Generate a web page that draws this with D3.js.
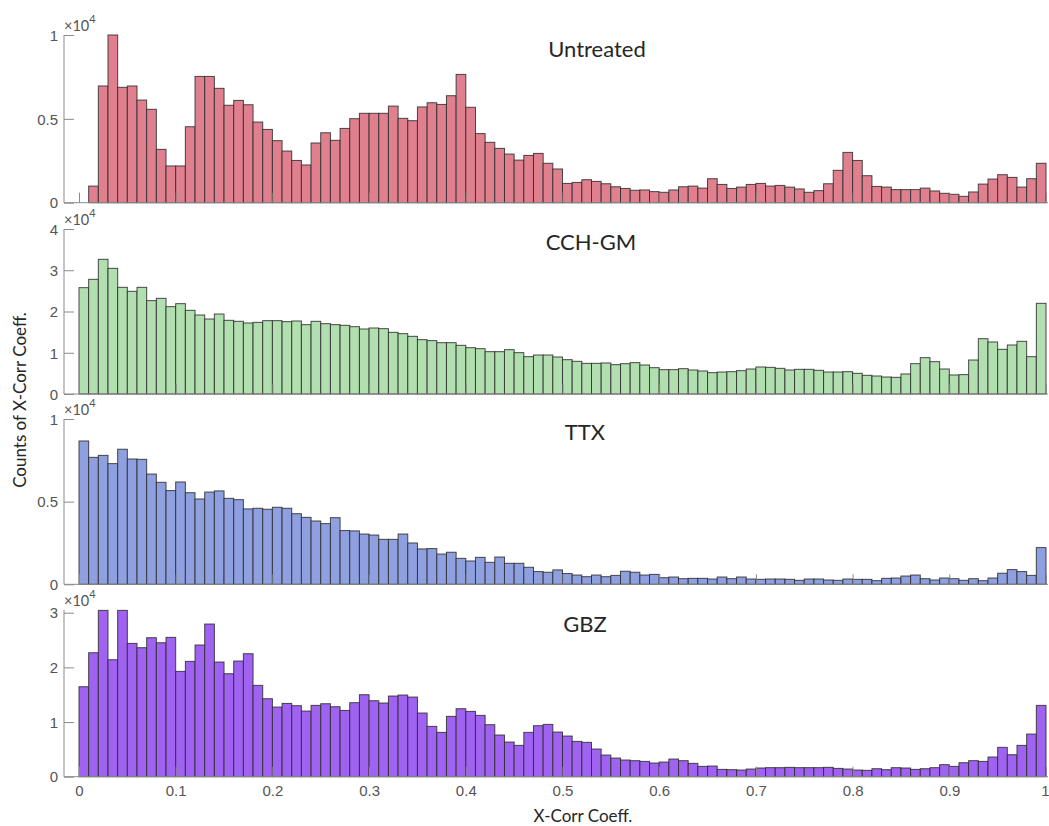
<!DOCTYPE html>
<html>
<head>
<meta charset="utf-8">
<script src="https://cdn.jsdelivr.net/npm/d3@7"></script>
<style>
  html, body { margin: 0; padding: 0; background: #ffffff; }
  svg { display: block; font-family: Lato, "Open Sans", sans-serif; }
</style>
</head>
<body>
<svg id="chart" width="1049" height="826"></svg>
<script>
// Histogram of cross-correlation coefficients, 100 bins of width 0.01 on [0, 1].
// Counts are given in units of 10^4.
const binWidth = 0.01;

const untreated = [
  0.000, 0.099, 0.696, 1.000, 0.688, 0.696, 0.612, 0.557, 0.318, 0.219,
  0.219, 0.453, 0.753, 0.753, 0.682, 0.581, 0.610, 0.584, 0.481, 0.437,
  0.370, 0.308, 0.252, 0.225, 0.356, 0.417, 0.372, 0.443, 0.501, 0.533,
  0.533, 0.533, 0.576, 0.503, 0.489, 0.571, 0.596, 0.586, 0.638, 0.765,
  0.569, 0.412, 0.360, 0.324, 0.290, 0.254, 0.282, 0.294, 0.235, 0.201,
  0.115, 0.121, 0.137, 0.127, 0.113, 0.095, 0.085, 0.074, 0.076, 0.066,
  0.062, 0.076, 0.095, 0.099, 0.087, 0.143, 0.109, 0.085, 0.093, 0.109,
  0.115, 0.099, 0.103, 0.093, 0.082, 0.062, 0.072, 0.113, 0.193, 0.300,
  0.252, 0.161, 0.097, 0.093, 0.078, 0.078, 0.078, 0.087, 0.070, 0.056,
  0.050, 0.038, 0.064, 0.111, 0.141, 0.167, 0.151, 0.093, 0.143, 0.235
];

const cchGm = [
  2.578, 2.780, 3.265, 3.046, 2.586, 2.489, 2.586, 2.263, 2.319, 2.117,
  2.190, 2.028, 1.915, 1.818, 1.939, 1.786, 1.762, 1.721, 1.737, 1.778,
  1.778, 1.754, 1.770, 1.681, 1.762, 1.705, 1.681, 1.665, 1.632, 1.576,
  1.600, 1.584, 1.495, 1.463, 1.398, 1.317, 1.293, 1.244, 1.244, 1.180,
  1.123, 1.099, 1.026, 1.026, 1.075, 1.002, 0.905, 0.945, 0.945, 0.897,
  0.832, 0.792, 0.743, 0.743, 0.752, 0.711, 0.735, 0.760, 0.703, 0.638,
  0.590, 0.590, 0.614, 0.582, 0.558, 0.517, 0.533, 0.541, 0.566, 0.606,
  0.655, 0.646, 0.622, 0.582, 0.598, 0.598, 0.574, 0.533, 0.533, 0.541,
  0.501, 0.453, 0.436, 0.412, 0.404, 0.485, 0.735, 0.881, 0.784, 0.606,
  0.461, 0.469, 0.824, 1.341, 1.261, 1.083, 1.188, 1.277, 0.905, 2.198
];

const ttx = [
  0.867, 0.768, 0.780, 0.730, 0.817, 0.758, 0.756, 0.667, 0.617, 0.567,
  0.619, 0.554, 0.516, 0.558, 0.565, 0.520, 0.512, 0.456, 0.460, 0.454,
  0.466, 0.460, 0.427, 0.405, 0.383, 0.367, 0.403, 0.325, 0.323, 0.304,
  0.298, 0.272, 0.272, 0.304, 0.250, 0.214, 0.216, 0.183, 0.194, 0.157,
  0.141, 0.163, 0.133, 0.165, 0.127, 0.127, 0.103, 0.077, 0.073, 0.087,
  0.065, 0.056, 0.046, 0.056, 0.046, 0.054, 0.079, 0.073, 0.056, 0.060,
  0.040, 0.044, 0.034, 0.036, 0.036, 0.032, 0.044, 0.034, 0.044, 0.032,
  0.030, 0.032, 0.032, 0.030, 0.024, 0.032, 0.032, 0.026, 0.024, 0.032,
  0.030, 0.030, 0.022, 0.036, 0.038, 0.050, 0.056, 0.034, 0.026, 0.038,
  0.034, 0.024, 0.034, 0.022, 0.038, 0.067, 0.089, 0.077, 0.054, 0.222
];

const gbz = [
  1.646, 2.268, 3.043, 2.140, 3.043, 2.439, 2.360, 2.543, 2.451, 2.549,
  1.927, 2.110, 2.409, 2.793, 2.098, 1.884, 2.116, 2.250, 1.671, 1.427,
  1.274, 1.341, 1.299, 1.201, 1.305, 1.335, 1.280, 1.213, 1.354, 1.500,
  1.390, 1.348, 1.476, 1.494, 1.457, 1.165, 0.921, 0.811, 1.104, 1.244,
  1.195, 1.122, 0.951, 0.762, 0.634, 0.573, 0.811, 0.933, 0.957, 0.817,
  0.744, 0.646, 0.628, 0.506, 0.396, 0.341, 0.305, 0.293, 0.280, 0.250,
  0.268, 0.323, 0.293, 0.244, 0.189, 0.195, 0.134, 0.128, 0.122, 0.140,
  0.159, 0.165, 0.165, 0.171, 0.165, 0.165, 0.165, 0.171, 0.152, 0.140,
  0.122, 0.116, 0.146, 0.128, 0.165, 0.159, 0.134, 0.146, 0.165, 0.220,
  0.189, 0.256, 0.293, 0.280, 0.360, 0.537, 0.402, 0.573, 0.780, 1.305
];

const panelTitles = ["Untreated", "CCH-GM", "TTX", "GBZ"];
const panelSeries = [untreated, cchGm, ttx, gbz];
const panelYMax = [1, 4, 1, 3.05];
const panelYTicks = [[0, 0.5, 1], [0, 1, 2, 3, 4], [0, 0.5, 1], [0, 1, 2, 3]];
const xTicks = [0, 0.1, 0.2, 0.3, 0.4, 0.5, 0.6, 0.7, 0.8, 0.9, 1];
const xLabel = "X-Corr Coeff.";
const yLabel = "Counts of X-Corr Coeff.";
const yExponent = "4";

// Layout and styling
const panelColors = ["#e0808f", "#b2dfb0", "#8fa0e0", "#a062f0"];
const panelBox = [
  { top: 35, bottom: 202.7, titleX: 597, titleY: 57 },
  { top: 229, bottom: 394, titleX: 591, titleY: 250 },
  { top: 419, bottom: 584.3, titleX: 585, titleY: 440 },
  { top: 610, bottom: 776.7, titleX: 585, titleY: 632 }
];
const axisLeft = 64, axisRight = 1046;
const axisColor = "#8a8a8a";
const textColor = "#555555";
const tickLen = 10;

const svg = d3.select("#chart");

const x = d3.scaleLinear().domain([-0.0155, 1]).range([axisLeft, axisRight]);

panelSeries.forEach((series, p) => {
  const box = panelBox[p];
  const y = d3.scaleLinear().domain([0, panelYMax[p]]).range([box.bottom, box.top]);
  const g = svg.append("g");

  // bars
  g.selectAll("rect.bar")
    .data(series)
    .join("rect")
    .attr("class", "bar")
    .attr("x", (d, i) => x(i * binWidth))
    .attr("width", x(binWidth) - x(0))
    .attr("y", d => y(d))
    .attr("height", d => y(0) - y(d))
    .attr("fill", panelColors[p])
    .attr("stroke", "#2b2b2b")
    .attr("stroke-opacity", 0.85)
    .attr("stroke-width", 1);

  // x axis (ticks inward, labels only on the bottom panel)
  const xAxis = d3.axisTop(x)
    .tickValues(xTicks)
    .tickSize(tickLen)
    .tickSizeOuter(0)
    .tickFormat("");
  const gx = g.append("g")
    .attr("transform", `translate(0,${box.bottom})`)
    .call(xAxis);
  gx.select(".domain").attr("stroke", axisColor).attr("d", `M${axisLeft},0H${axisRight + 2}`);
  gx.selectAll(".tick line").attr("stroke", axisColor);

  if (p === panelSeries.length - 1) {
    gx.selectAll(".tick")
      .append("text")
      .attr("y", 19)
      .attr("x", d => (d === 1 ? 3 : 0))
      .attr("text-anchor", d => (d === 1 ? "end" : "middle"))
      .attr("fill", textColor)
      .attr("font-size", 15)
      .text(d => d3.format("")(d));
  }

  // y axis (ticks inward)
  const yAxis = d3.axisRight(y)
    .tickValues(panelYTicks[p])
    .tickSize(tickLen)
    .tickSizeOuter(0)
    .tickFormat("");
  const gy = g.append("g")
    .attr("transform", `translate(${axisLeft},0)`)
    .call(yAxis);
  gy.select(".domain").attr("stroke", axisColor).attr("d", `M0,${box.bottom}V${box.top}`);
  gy.selectAll(".tick line").attr("stroke", axisColor);
  gy.selectAll(".tick")
    .append("text")
    .attr("x", -6)
    .attr("dy", "0.35em")
    .attr("text-anchor", "end")
    .attr("fill", textColor)
    .attr("font-size", 15)
    .text(d => d3.format("")(d));

  // exponent marker
  const ex = g.append("text")
    .attr("x", axisLeft)
    .attr("y", box.top - 4)
    .attr("fill", textColor)
    .attr("font-size", 14.5);
  ex.append("tspan").text("\u00d710");
  ex.append("tspan").attr("dy", -8).attr("font-size", 11).text(yExponent);

  // panel title
  g.append("text")
    .attr("x", box.titleX)
    .attr("y", box.titleY)
    .attr("text-anchor", "middle")
    .attr("fill", "#262626")
    .attr("font-size", 22)
    .text(panelTitles[p]);
});

// axis labels
svg.append("text")
  .attr("x", 583)
  .attr("y", 822)
  .attr("text-anchor", "middle")
  .attr("fill", "#262626")
  .attr("font-size", 17)
  .text(xLabel);

svg.append("text")
  .attr("transform", "translate(26,400) rotate(-90)")
  .attr("text-anchor", "middle")
  .attr("fill", "#262626")
  .attr("font-size", 17)
  .text(yLabel);
</script>
</body>
</html>
